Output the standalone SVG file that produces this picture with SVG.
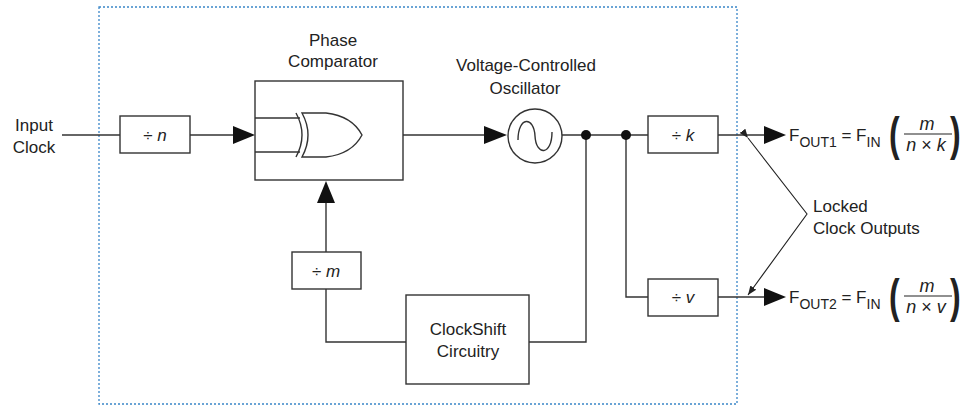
<svg xmlns="http://www.w3.org/2000/svg" width="973" height="407" viewBox="0 0 973 407">
<style>
.ln{fill:none;stroke:#333;stroke-width:1.4}
.box{fill:#fff;stroke:#333;stroke-width:1.4}
.ah{fill:#111;stroke:none}
.t{font-family:"Liberation Sans",Arial,sans-serif;font-size:17px;fill:#222;text-anchor:middle}
.it{font-style:italic}
.eq{font-family:"Liberation Sans",Arial,sans-serif;font-size:17px;fill:#222}
.fr{font-family:"Liberation Sans",Arial,sans-serif;font-size:18px;fill:#222;text-anchor:middle}
.par{font-family:"Liberation Sans",Arial,sans-serif;font-size:32px;font-weight:bold;fill:#222}
</style>
<defs>
<marker id="sm" viewBox="0 0 10 10" refX="10" refY="5" markerWidth="9" markerHeight="9" markerUnits="userSpaceOnUse" orient="auto">
<path d="M0,1 L10,5 L0,9 Z" fill="#222"/>
</marker>
</defs>
<rect x="99" y="7" width="638" height="397" fill="none" stroke="#3a86c8" stroke-width="1.3" stroke-dasharray="2,2"/>

<g id="connectors">
<line class="ln" x1="62" y1="135" x2="120" y2="135"/>
<line class="ln" x1="190" y1="135" x2="234" y2="135"/>
<path class="ah" d="M233,126 L255,135 L233,144 Z"/>
<line class="ln" x1="362" y1="135" x2="485" y2="135"/>
<path class="ah" d="M484,126 L507,135 L484,144 Z"/>
<line class="ln" x1="562" y1="135" x2="648" y2="135"/>
<polyline class="ln" points="626,135 626,297 648,297"/>
<polyline class="ln" points="586,135 586,342 529,342"/>
<polyline class="ln" points="406,342 326,342 326,289"/>
<line class="ln" x1="326" y1="252" x2="326" y2="202"/>
<path class="ah" d="M317,203 L326,181 L335,203 Z"/>
<line class="ln" x1="718" y1="135" x2="765" y2="135"/>
<path class="ah" d="M764,126 L786,135 L764,144 Z"/>
<line class="ln" x1="718" y1="297" x2="765" y2="297"/>
<path class="ah" d="M764,288 L786,297 L764,306 Z"/>
<circle cx="586" cy="135" r="5" fill="#111"/>
<circle cx="626" cy="135" r="5" fill="#111"/>
<polyline fill="none" stroke="#222" stroke-width="1.1" points="748,138 807,214 748,295" marker-start="url(#sm)" marker-end="url(#sm)"/>
</g>

<g id="input-label">
<text class="t" x="34" y="131">Input</text>
<text class="t" x="34" y="153">Clock</text>
</g>

<g id="div-n">
<rect class="box" x="120" y="116" width="70" height="37"/>
<text class="t" x="155" y="141">÷ <tspan class="it">n</tspan></text>
</g>

<g id="phase-comparator">
<text class="t" x="333" y="46">Phase</text>
<text class="t" x="333" y="67">Comparator</text>
<rect class="box" x="255" y="81" width="148" height="99"/>
<line class="ln" x1="255" y1="118" x2="300" y2="118"/>
<line class="ln" x1="255" y1="152" x2="300" y2="152"/>
<path class="ln" d="M296,113 Q308,135 296,157"/>
<path class="ln" d="M302,113 L326,113 Q352,116 362,135 Q352,154 326,157 L302,157 Q314,135 302,113 Z" fill="#fff"/>
</g>

<g id="vco">
<text class="t" x="526" y="71">Voltage-Controlled</text>
<text class="t" x="525" y="94">Oscillator</text>
<circle class="box" cx="535" cy="136" r="27"/>
<path class="ln" d="M518,140 C518,116 534,116 535,136 C536,156 552,156 552,132"/>
</g>

<g id="div-k">
<rect class="box" x="648" y="116" width="70" height="37"/>
<text class="t" x="683" y="141">÷ <tspan class="it">k</tspan></text>
</g>

<g id="div-v">
<rect class="box" x="648" y="279" width="70" height="37"/>
<text class="t" x="683" y="303">÷ <tspan class="it">v</tspan></text>
</g>

<g id="div-m">
<rect class="box" x="292" y="252" width="69" height="37"/>
<text class="t" x="326" y="277">÷ <tspan class="it">m</tspan></text>
</g>

<g id="clockshift">
<rect class="box" x="406" y="295" width="123" height="89"/>
<text class="t" x="468" y="335">ClockShift</text>
<text class="t" x="468" y="357">Circuitry</text>
</g>

<g id="locked-label">
<text class="t" x="813" y="212" style="text-anchor:start">Locked</text>
<text class="t" x="813" y="234" style="text-anchor:start">Clock Outputs</text>
</g>

<g id="fout1">
<text class="eq" x="789" y="141">F<tspan font-size="14" dy="6">OUT1</tspan><tspan dy="-6"> = F</tspan><tspan font-size="14" dy="6">IN</tspan></text>
<text class="par" transform="translate(889,150) scale(1,1.45)">(</text>
<text class="fr it" x="927" y="130">m</text>
<line x1="904" y1="134" x2="952" y2="134" stroke="#222" stroke-width="1.1"/>
<text class="fr" x="926" y="151"><tspan class="it">n</tspan> × <tspan class="it">k</tspan></text>
<text class="par" transform="translate(950,150) scale(1,1.45)">)</text>
</g>

<g id="fout2">
<text class="eq" x="789" y="303">F<tspan font-size="14" dy="6">OUT2</tspan><tspan dy="-6"> = F</tspan><tspan font-size="14" dy="6">IN</tspan></text>
<text class="par" transform="translate(889,312) scale(1,1.45)">(</text>
<text class="fr it" x="927" y="292">m</text>
<line x1="904" y1="296" x2="952" y2="296" stroke="#222" stroke-width="1.1"/>
<text class="fr" x="926" y="313"><tspan class="it">n</tspan> × <tspan class="it">v</tspan></text>
<text class="par" transform="translate(950,312) scale(1,1.45)">)</text>
</g>
</svg>
